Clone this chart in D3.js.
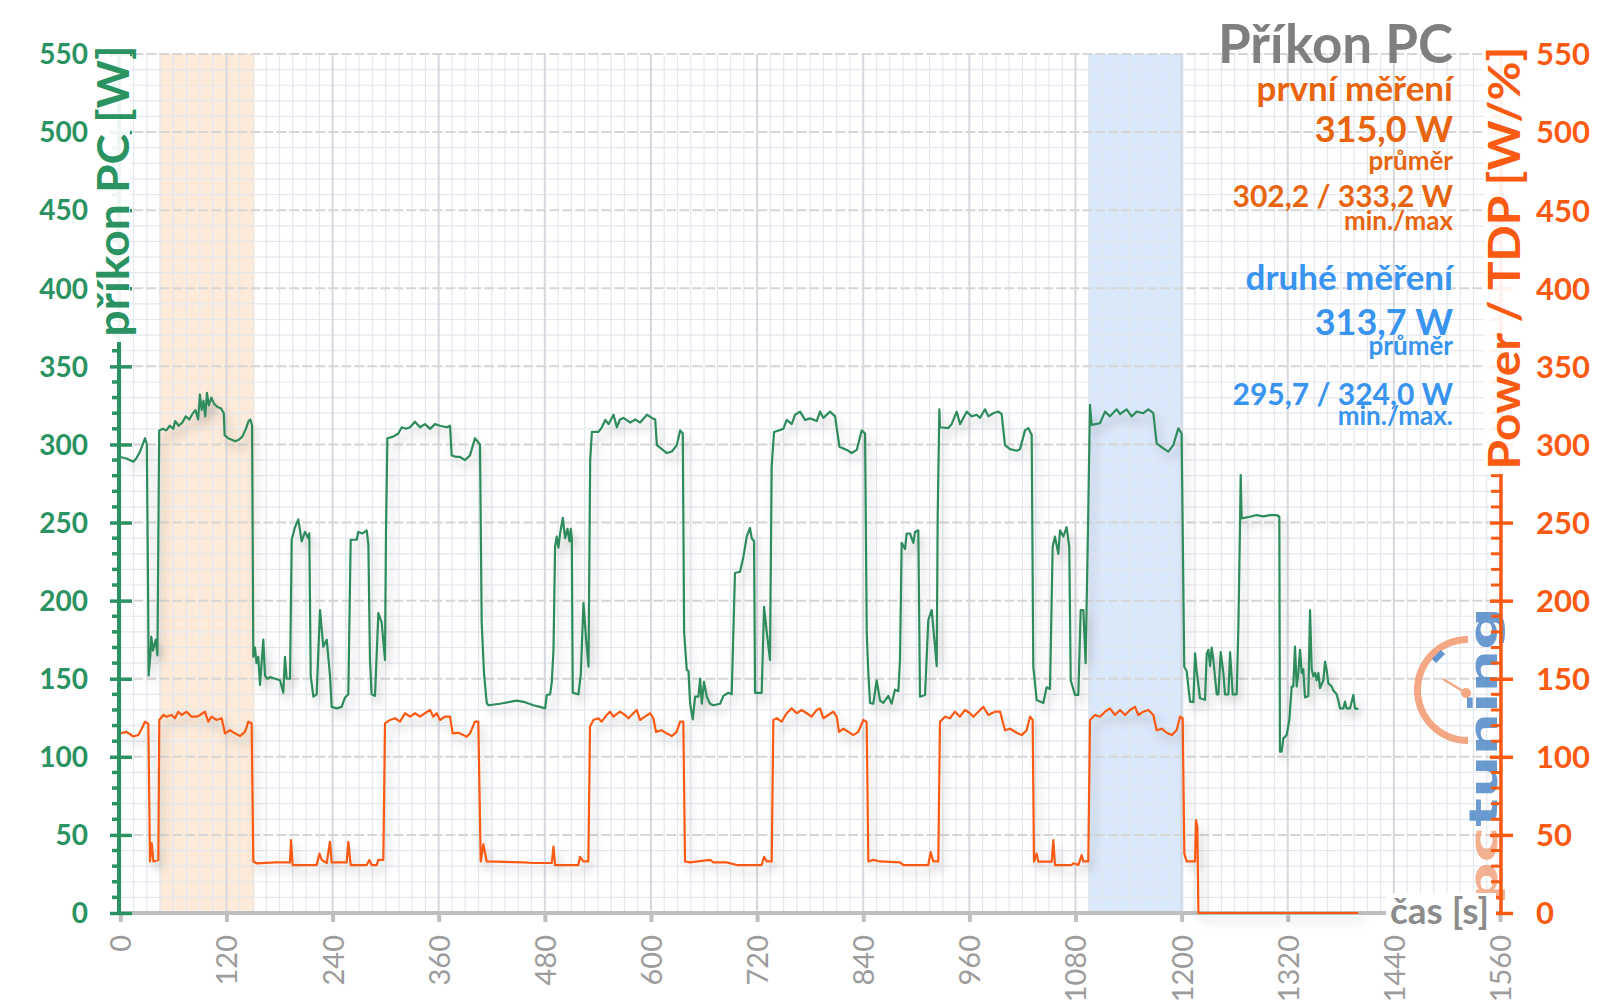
<!DOCTYPE html>
<html><head><meta charset="utf-8">
<script src="https://cdn.jsdelivr.net/npm/d3@7"></script>
<style>body{margin:0;background:#fff} svg{display:block}</style>
</head><body>
<svg id="c" width="1600" height="1008"></svg>
<script>
// ---------- data ----------
const xTickValues = [0,120,240,360,480,600,720,840,960,1080,1200,1320,1440,1560];
const xTickLabels = ["0","120","240","360","480","600","720","840","960","1080","1200","1320","1440","1560"];
const yTickValues = [0,50,100,150,200,250,300,350,400,450,500,550];
const yTickLabels = ["0","50","100","150","200","250","300","350","400","450","500","550"];
const bandFirst = [44, 152];      // první měření (s)
const bandSecond = [1094.5, 1202]; // druhé měření (s)

// příkon PC [W]  (time s, value W)
const pcPower = [[0,292],[7,291],[14.7,289],[18,291],[22,295],[26,301],[28,304],[30,300],[31.5,200],[32,152],[34,165],[35,177],[37,168],[40,175],[42,165],[43,240],[44,309],[48,310],[52,309],[56,312],[60,310],[62,315],[66,312],[70,314],[74,318],[78,316],[82,320],[85,322],[88,316],[90,332],[92,322],[94,328],[96,318],[98,333],[100,325],[103,330],[106,326],[110,324],[114,323],[117,320],[118,306],[122,304],[126,303],[130,302],[134,303],[138,305],[142,310],[145,315],[147,316],[149,312],[150.4,164],[152.3,170],[154,160],[156,164],[158,146],[161.7,175],[163.6,152],[166,150],[169.3,151],[175,150],[180.6,149],[184.3,141],[186.2,164],[188.1,150],[191.9,150],[193.8,239],[197.5,247],[201.3,252],[205.1,238],[208.8,244],[212.6,240],[213.7,243],[215.3,152],[218.3,138.5],[222,140],[225.8,194],[229.5,170.5],[233.4,175],[237.1,152],[239,132],[244.7,131],[250.3,132],[254.1,138],[257.8,140],[260.5,239],[267.3,239],[269.1,244],[274,243],[278.6,245],[280.5,236],[282.3,162],[284.2,140],[288,139],[291.8,192],[295.5,186],[299.3,162],[300.4,243],[302,304],[308.7,305],[314.4,307],[318.2,311],[323,310],[327.6,311],[333.2,314.6],[338.9,311],[344.5,313],[350.2,310],[355.8,313],[361.5,312],[369,311],[372.8,312],[374.7,293],[380,292],[384.1,292],[389.8,290],[395.4,293],[401,304],[406.7,300],[408.6,186],[411.2,153.7],[414.3,134.5],[416.2,133],[429.3,134],[448.1,136],[457.6,135],[467,133],[474.5,132],[480.4,131],[482.2,139.6],[486,140],[487.9,148],[489.8,168.4],[491.6,234.5],[493.5,241],[495.4,234],[497.3,243],[500.3,253],[502.9,240],[505.6,246],[507.9,238],[509.4,246],[510.5,240],[511.6,141],[518,140],[520.7,153],[523.7,198.5],[526.7,175],[529.4,157.7],[531.3,290],[533.2,308],[540.7,308],[544.5,311],[548.3,315.7],[552,313],[557.7,319],[561.4,311],[565,316],[569,317],[576.5,314],[582.2,316],[587.8,314],[595.4,319],[601,317],[604.8,316],[606.7,299.6],[612.3,297],[618,294.5],[623.6,295.5],[629.3,299.6],[633,309],[636,307],[637.5,180],[640.5,155.6],[642.4,155],[644.3,134],[647.3,124],[649.9,138.5],[653.7,138.5],[655.6,150],[657.5,134],[660,148],[663.1,138.5],[666.8,134],[670.6,133],[678.2,134],[681.9,139],[687.5,141],[691.3,140],[695,217.7],[700.7,218.5],[704.5,228],[708.3,241],[712,246.5],[713.9,240],[716.6,238],[717.7,141],[725.2,141],[727.9,196],[730.9,180],[734.6,162],[736.5,285.8],[739.2,308],[749.7,310],[753.5,315.7],[759.2,313],[762.9,319],[768.6,321],[774.2,315.7],[779.9,316.7],[787.4,315],[791.2,321],[795,317],[802.5,321],[808.2,318],[813.1,298.6],[821.4,296.5],[827,294.5],[832.7,296.5],[838.3,309],[842.1,307],[844,179],[845.8,153.7],[847.7,134.5],[851.4,134],[855.2,149],[859,136],[862.7,134.5],[868.4,139],[872.2,134],[875.9,143],[879.7,142],[881.6,162],[883.5,237],[887.3,233],[889.1,243],[892.9,243],[896.7,237],[898.6,244],[902.3,245],[904.2,138.5],[909.9,139.6],[913.6,187.6],[917.4,194],[921.2,170.5],[923.1,158],[924.2,253.8],[926.1,322.5],[926.8,311],[936.3,310.5],[940,313],[945.7,321],[949.5,313],[957,321],[962.6,318],[968.3,319],[972,317],[977.7,322.5],[981.5,318],[987.1,320],[992.8,321],[996.5,319.5],[1000.3,299.6],[1006,297],[1013.5,296],[1017.3,297],[1022.9,309],[1026.7,310.5],[1030.5,306],[1032.3,157.7],[1036.1,136.4],[1043.6,134.5],[1047.4,144.5],[1051.2,143.4],[1054.2,234.5],[1056.8,241],[1060.6,230],[1062.5,245],[1066.3,241],[1070,247],[1073,234.5],[1074.6,149],[1079.5,139.6],[1083.2,139.6],[1085.9,194],[1088.9,194],[1091.5,160],[1094.5,258],[1096.4,325.3],[1098.3,312.5],[1107.7,313.6],[1113.4,321],[1119,318],[1126.6,322.5],[1130.4,319.5],[1137.9,322.5],[1143.5,318],[1149.2,321],[1156.7,320],[1162.4,322.5],[1168,320],[1171.8,300.7],[1179.3,297.5],[1185,295.4],[1190.6,299.6],[1196.3,310.3],[1200,307],[1203,157.7],[1205.7,155],[1209.5,135.3],[1213.3,135],[1215.2,166.3],[1217,155],[1220.8,137.5],[1226.5,136.5],[1228.4,166],[1230.3,168.5],[1232.2,158],[1234,170],[1235.9,162],[1239.7,140],[1241.6,140],[1244.2,167],[1247.2,153.7],[1249.1,140],[1252.9,140],[1254.8,167],[1257.8,140],[1262.3,140],[1264.2,183.3],[1266.1,250],[1266.8,280.4],[1267.9,252.7],[1277.3,253.7],[1284.8,254.8],[1292.4,254],[1299.9,254.8],[1307.4,254.8],[1310.5,253.7],[1311.2,103.3],[1313.1,103.3],[1315,111.8],[1318.8,114],[1321.8,123.6],[1324.5,145],[1326.3,145],[1328.2,170.5],[1330.1,145],[1332,153.7],[1333.9,168.5],[1335.8,153.7],[1337.6,156],[1339.5,138],[1343.3,139],[1345.2,194],[1347.1,156],[1349,151.5],[1350.9,153.7],[1352.7,149],[1354.6,153.7],[1356.5,144],[1360.3,149],[1362.2,161],[1364,155.6],[1365.9,147],[1369.7,145],[1371.6,142.4],[1375.3,140],[1377.2,136],[1379.1,131],[1382.9,131],[1384.7,135.3],[1386.6,131],[1390.4,131],[1394.2,139.6],[1396,131],[1399.8,130.5]];

// Power / TDP [W/%]  (time s, value)
const tdpPower = [[0,115],[7.2,116],[14.7,113],[20.4,114],[24.2,118],[27.9,122.5],[31.7,121],[33.6,33],[35.5,44.8],[37.4,33],[43,34],[44.1,123.6],[48.7,126.8],[52.4,125.7],[58,126.8],[61.8,124.7],[65.6,128.9],[69.3,126.8],[75,128.9],[80.6,125.7],[86.3,125.7],[90.1,126.8],[95.7,128.9],[99.5,122.5],[103.3,125.7],[108.9,123.6],[114.6,124.7],[118.4,115],[124,117],[129.7,115],[135.3,113.3],[141,116],[144.8,122.5],[148.5,121.5],[150.4,33],[154.2,31.8],[174.9,32.4],[191.9,32.4],[193,46.7],[194.9,30.7],[222,30.7],[225.1,38],[227.7,34],[233.4,32],[237.1,45.6],[239,32.4],[256,32.4],[257.8,45.6],[260.5,30.7],[278.6,30.7],[281.6,34],[284.2,30.7],[289.9,30.7],[291.8,34],[297.4,34],[299.3,121.4],[305,123.6],[310.6,124.7],[316.3,122.5],[321.9,127.9],[327.6,125.7],[333.2,127.9],[338.9,125.7],[344.5,127.9],[350.2,130],[353.9,125.7],[357.7,127.9],[361.5,123.6],[367.1,125.7],[372.8,125.7],[375.8,115],[382.2,115.4],[387.9,113.9],[391.6,112.8],[395.4,115],[401,122.5],[404.8,122.5],[407.5,33],[410.5,44],[414.3,33],[455.8,32.4],[467,32],[487.9,32],[489.8,42.5],[491.6,30.7],[517.9,30.7],[519.8,36],[523.5,33],[529.2,33],[531.1,119.3],[534.9,123.6],[540.5,124.7],[544.3,122.5],[550,126.8],[553.7,128.9],[557.5,125.7],[565,128.9],[570.7,126.8],[574.5,124.7],[580.1,127.9],[583.9,130],[587.6,123.6],[593.3,125.7],[599,127.9],[602.7,124.7],[605.7,116],[612.1,117],[617.8,115],[623.4,113.3],[629.1,116],[632.9,122.5],[636.6,122.5],[638.5,33],[644.2,32.4],[666.8,34],[670.6,32.4],[685.7,32.4],[697,30.7],[725.2,30.7],[727.9,36],[730.9,33],[736.5,33],[738.4,123.6],[742.2,124.7],[747.8,122.5],[753.5,127.9],[759.1,131],[764.8,127.9],[770.4,130],[776.1,127.9],[781.7,125.7],[787.4,130],[791.2,131],[794.9,124.7],[800.6,126.8],[806.2,128.9],[810,125.7],[812.6,116],[817.5,118],[823.2,116],[828.8,113.9],[834.5,116],[840.1,123.6],[843.9,122.5],[845.8,33],[851.4,34],[859,33],[881.6,32.4],[885.4,30.7],[913.6,30.7],[916.2,39],[919.3,33],[924.9,33],[926.8,122.5],[932.5,125.7],[938.1,124.7],[943.8,128.9],[949.4,125.7],[955.1,130],[960.7,127.9],[964.5,125.7],[970.2,128.9],[975.8,132],[981.5,126.8],[989,128.9],[994.7,129],[1000.3,117],[1006,118],[1013.5,115.4],[1019.2,113.9],[1024.8,117],[1028.6,125.7],[1031.6,123.6],[1033.1,32.9],[1036.1,38],[1038,32.9],[1053.1,32.9],[1055,46.7],[1056.8,30.7],[1075.7,30.7],[1077.6,31.8],[1083.2,30.7],[1087,37],[1088.9,33],[1094.5,33],[1096.4,123.6],[1102.1,126.8],[1107.7,125.7],[1113.4,128.9],[1119,131],[1124.7,126.8],[1130.4,130],[1136,126.8],[1141.7,130],[1147.3,132],[1151.1,126.8],[1156.7,128.9],[1162.4,130],[1168,126.8],[1171.8,117],[1177.5,118],[1183.1,115.4],[1188.8,113.9],[1194.4,117],[1198.2,125.7],[1201.2,124.7],[1203.1,38],[1205.7,33],[1215.2,33],[1216.3,59.5],[1217.8,55],[1219,0],[1399.8,0]];

const titleText = "Příkon PC";
const firstBlock = ["první měření", "315,0 W", "průměr", "302,2 / 333,2 W", "min./max"];
const secondBlock = ["druhé měření", "313,7 W", "průměr", "295,7 / 324,0 W", "min./max."];

// ---------- drawing ----------
const svg = d3.select("#c");
const F = "Lato, 'Open Sans', sans-serif";
const GREEN = "#2b9262", GREEN_LINE = "#2e8b5c", ORANGE = "#fb5a12", ORANGE_TXT = "#e8640e", BLUE_TXT = "#3894ef", GRAY = "#9c9c9c";

const x = d3.scaleLinear().domain([0,1560]).range([120.3,1500]);
const y = d3.scaleLinear().domain([0,550]).range([913,54]);

const defs = svg.append("defs");
const f = defs.append("filter").attr("id","sh").attr("x","-5%").attr("y","-5%").attr("width","115%").attr("height","120%");
f.append("feDropShadow").attr("dx",4).attr("dy",7).attr("stdDeviation",5).attr("flood-color","#000").attr("flood-opacity",0.22);

// bands
[[bandFirst,"#fde6d2"],[bandSecond,"#d3e4fa"]].forEach(([b,c])=>{
  svg.append("rect").attr("x",x(b[0])).attr("y",y(550)).attr("width",x(b[1])-x(b[0])).attr("height",y(0)-y(550)).attr("fill",c).attr("opacity",0.85);
});

// grid
const g = svg.append("g");
const minorX = d3.range(0,1561,15).filter(v=>v%120!==0);
const minorY = d3.range(0,551,10).filter(v=>v%50!==0);
g.selectAll(".mx").data(minorX).join("line").attr("x1",d=>x(d)).attr("x2",d=>x(d)).attr("y1",y(550)).attr("y2",y(0)).attr("stroke","#e3e8ef").attr("stroke-width",1.2);
g.selectAll(".my").data(minorY).join("line").attr("y1",d=>y(d)).attr("y2",d=>y(d)).attr("x1",x(0)).attr("x2",x(1560)).attr("stroke","#e3e8ef").attr("stroke-width",1.2);
g.selectAll(".Mx").data(xTickValues.slice(1)).join("line").attr("x1",d=>x(d)).attr("x2",d=>x(d)).attr("y1",y(550)).attr("y2",y(0)).attr("stroke","#d5d8df").attr("stroke-width",2);
g.selectAll(".My").data(yTickValues.slice(1)).join("line").attr("y1",d=>y(d)).attr("y2",d=>y(d)).attr("x1",x(0)).attr("x2",x(1560)).attr("stroke","#d6d6d6").attr("stroke-width",2).attr("stroke-dasharray","10,3");

// x axis
svg.append("line").attr("x1",x(0)-3).attr("x2",x(1560)).attr("y1",y(0)).attr("y2",y(0)).attr("stroke","#bfbfbf").attr("stroke-width",4);
const xa = d3.axisBottom(x).tickValues(xTickValues).tickFormat((d,i)=>xTickLabels[i]).tickSize(9).tickPadding(0);
const xg = svg.append("g").attr("transform",`translate(0,${y(0)})`).call(xa);
xg.select(".domain").remove();
xg.selectAll(".tick line").attr("stroke","#bfbfbf").attr("stroke-width",4);
xg.selectAll(".tick text").attr("fill",GRAY).attr("font-family",F).attr("font-size",29)
  .attr("transform","rotate(-90)").attr("text-anchor","end").attr("x",-22).attr("y",0).attr("dy","0.36em");

// logo (watermark, behind series)
const logo = svg.append("g").attr("opacity",0.82);
const arc = d3.arc().innerRadius(47).outerRadius(54).startAngle(Math.PI).endAngle(2*Math.PI);
logo.append("path").attr("d",arc()).attr("transform","translate(1468,690)").attr("fill","#f2956a");
logo.append("line").attr("x1",1434).attr("y1",661).attr("x2",1443).attr("y2",652).attr("stroke","#3f7fc9").attr("stroke-width",6);
logo.append("line").attr("x1",1443).attr("y1",679).attr("x2",1466).attr("y2",693).attr("stroke","#f2956a").attr("stroke-width",2.5);
logo.append("circle").attr("cx",1466).attr("cy",693).attr("r",5).attr("fill","#f2956a");
const lt = logo.append("text").attr("transform","translate(1497,905) rotate(-90)").attr("font-family","'DejaVu Sans', sans-serif").attr("font-weight",700).attr("font-size",39)
  .attr("textLength",298).attr("lengthAdjust","spacingAndGlyphs");
lt.append("tspan").attr("fill","#f2a07a").text("pc");
lt.append("tspan").attr("fill","#4a85c6").text("tuning");

// series
const line = d3.line().x(d=>x(d[0])).y(d=>y(d[1]));
svg.append("path").datum(pcPower).attr("d",line).attr("fill","none").attr("stroke",GREEN_LINE).attr("stroke-width",2.2).attr("stroke-linejoin","round").attr("filter","url(#sh)");
svg.append("path").datum(tdpPower).attr("d",line).attr("fill","none").attr("stroke",ORANGE).attr("stroke-width",2.2).attr("stroke-linejoin","round").attr("filter","url(#sh)");

// left axis
const minorT = d3.range(0,551,10).filter(v=>v%50!==0);
svg.append("line").attr("x1",119).attr("x2",119).attr("y1",y(0)+2).attr("y2",y(550)).attr("stroke",GREEN).attr("stroke-width",4);
svg.selectAll(".lmin").data(minorT).join("line").attr("x1",112).attr("x2",119).attr("y1",d=>y(d)).attr("y2",d=>y(d)).attr("stroke",GREEN).attr("stroke-width",3.5);
const la = d3.axisLeft(y).tickValues(yTickValues).tickFormat((d,i)=>yTickLabels[i]).tickSize(0).tickPadding(0);
const lg = svg.append("g").attr("transform","translate(119,0)").call(la);
lg.select(".domain").remove();
lg.selectAll(".tick").append("line").attr("x1",-9).attr("x2",13).attr("stroke",GREEN).attr("stroke-width",3.5);
lg.selectAll(".tick text").attr("fill",GREEN).attr("font-family",F).attr("font-weight",700).attr("font-size",28).attr("x",-31).attr("dy","0.35em");

// right axis
svg.append("line").attr("x1",1501).attr("x2",1501).attr("y1",y(0)).attr("y2",y(550)).attr("stroke",ORANGE).attr("stroke-width",3.5);
svg.selectAll(".rmin").data(minorT).join("line").attr("x1",1491).attr("x2",1501).attr("y1",d=>y(d)).attr("y2",d=>y(d)).attr("stroke",ORANGE).attr("stroke-width",3);
const ra = d3.axisRight(y).tickValues(yTickValues).tickFormat((d,i)=>yTickLabels[i]).tickSize(0).tickPadding(0);
const rg = svg.append("g").attr("transform","translate(1501,0)").call(ra);
rg.select(".domain").remove();
rg.selectAll(".tick").append("line").attr("x1",-11).attr("x2",12).attr("stroke",ORANGE).attr("stroke-width",3.5);
rg.selectAll(".tick text").attr("fill",ORANGE).attr("font-family",F).attr("font-weight",700).attr("font-size",31).attr("x",35).attr("dy","0.35em");

// axis titles with white backing
svg.append("rect").attr("x",94).attr("y",44).attr("width",36).attr("height",298).attr("fill","#fff").attr("opacity",0.92);
svg.append("text").attr("transform","translate(129,191) rotate(-90)").attr("text-anchor","middle")
  .attr("fill",GREEN).attr("font-family",F).attr("font-weight",700).attr("font-size",43)
  .attr("textLength",291).attr("lengthAdjust","spacingAndGlyphs").text("příkon PC [W]");
svg.append("rect").attr("x",1484).attr("y",44).attr("width",36).attr("height",430).attr("fill","#fff").attr("opacity",0.92);
svg.append("text").attr("transform","translate(1520,258) rotate(-90)").attr("text-anchor","middle")
  .attr("fill",ORANGE).attr("font-family",F).attr("font-weight",700).attr("font-size",44)
  .attr("textLength",423).attr("lengthAdjust","spacingAndGlyphs").text("Power / TDP [W/%]");
svg.append("rect").attr("x",1386).attr("y",893).attr("width",110).attr("height",42).attr("fill","#fff");
svg.append("text").attr("x",1390).attr("y",924).attr("fill","#8c8c8c").attr("font-family",F).attr("font-weight",700).attr("font-size",37).text("čas [s]");

// title & stats
svg.append("text").attr("x",1453).attr("y",63).attr("text-anchor","end").attr("fill","#7f7f7f").attr("font-family",F).attr("font-weight",700).attr("font-size",53).text(titleText);
const sizes = [35,36,26,30,26];
const base1 = [101,142,170,207,230];
const base2 = [290,335,355,405,425];
firstBlock.forEach((t,i)=>svg.append("text").attr("x",1453).attr("y",base1[i]).attr("text-anchor","end").attr("fill",ORANGE_TXT).attr("font-family",F).attr("font-weight",700).attr("font-size",sizes[i]).text(t));
secondBlock.forEach((t,i)=>svg.append("text").attr("x",1453).attr("y",base2[i]).attr("text-anchor","end").attr("fill",BLUE_TXT).attr("font-family",F).attr("font-weight",700).attr("font-size",sizes[i]).text(t));
</script>
</body></html>
